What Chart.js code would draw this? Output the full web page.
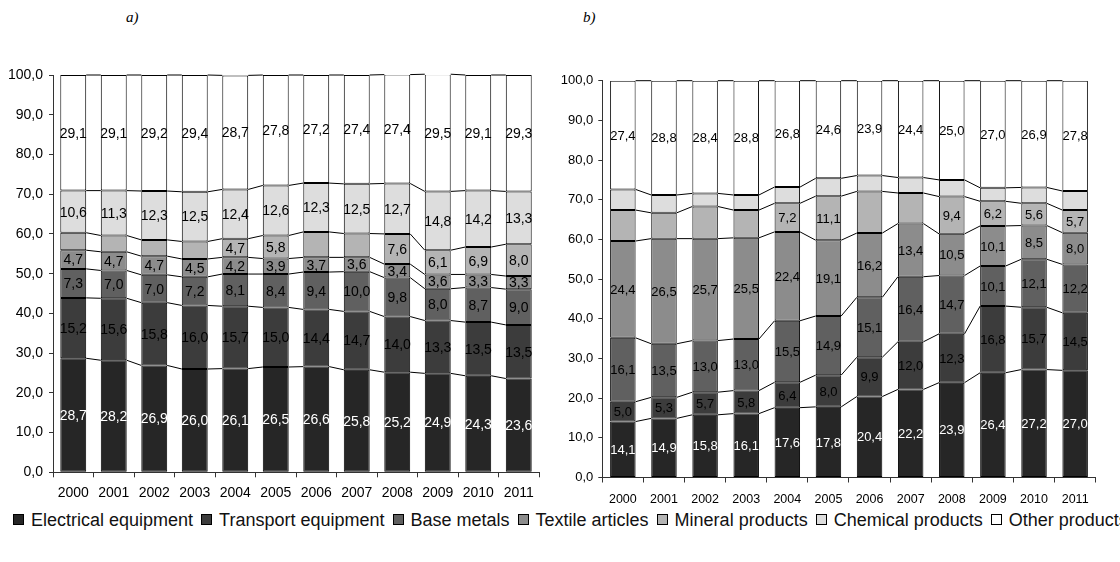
<!DOCTYPE html>
<html>
<head>
<meta charset="utf-8">
<script src="https://cdn.jsdelivr.net/npm/chart.js@4.4.1/dist/chart.umd.min.js"></script>
<style>
  html, body { margin: 0; padding: 0; background: #fff; width: 1120px; height: 562px; overflow: hidden; }
  canvas { position: absolute; top: 0; }
  #chartA { left: 0; }
  #chartB { left: 560px; }
  .panel-title { position: absolute; top: 9px; font-family: "Liberation Serif", "DejaVu Serif", serif; font-style: italic; font-size: 15px; color: #000; }
  #legend { position: absolute; left: 13px; top: 510px; white-space: nowrap; font-family: "Liberation Sans", Arial, sans-serif; font-size: 18px; color: #111; }
  #legend .item { display: inline-block; margin-right: 8px; }
  #legend .box { display: inline-block; width: 9px; height: 9px; border: 1px solid #000; margin-right: 7px; vertical-align: 1px; }
</style>
</head>
<body>
<div class="panel-title" style="left:126px">a)</div>
<div class="panel-title" style="left:583px">b)</div>
<canvas id="chartA" width="560" height="510"></canvas>
<canvas id="chartB" width="560" height="510"></canvas>
<div id="legend"></div>
<script>
// Years on the category axis
const years = ['2000', '2001', '2002', '2003', '2004', '2005', '2006', '2007', '2008', '2009', '2010', '2011'];

// Series names (bottom of the stack first)
const seriesNames = ['Electrical equipment', 'Transport equipment', 'Base metals', 'Textile articles',
                     'Mineral products', 'Chemical products', 'Other products'];

// Panel a) shares, %
const electricalA = [28.7, 28.2, 26.9, 26.0, 26.1, 26.5, 26.6, 25.8, 25.2, 24.9, 24.3, 23.6];
const transportA  = [15.2, 15.6, 15.8, 16.0, 15.7, 15.0, 14.4, 14.7, 14.0, 13.3, 13.5, 13.5];
const baseMetalsA = [7.3, 7.0, 7.0, 7.2, 8.1, 8.4, 9.4, 10.0, 9.8, 8.0, 8.7, 9.0];
const textileA    = [4.7, 4.7, 4.7, 4.5, 4.2, 3.9, 3.7, 3.6, 3.4, 3.6, 3.3, 3.3];
const mineralA    = [4.4, 4.1, 4.1, 4.4, 4.7, 5.8, 6.4, 6.0, 7.6, 6.1, 6.9, 8.0];
const chemicalA   = [10.6, 11.3, 12.3, 12.5, 12.4, 12.6, 12.3, 12.5, 12.7, 14.8, 14.2, 13.3];
const otherA      = [29.1, 29.1, 29.2, 29.4, 28.7, 27.8, 27.2, 27.4, 27.4, 29.5, 29.1, 29.3];

// Panel b) shares, %
const electricalB = [14.1, 14.9, 15.8, 16.1, 17.6, 17.8, 20.4, 22.2, 23.9, 26.4, 27.2, 27.0];
const transportB  = [5.0, 5.3, 5.7, 5.8, 6.4, 8.0, 9.9, 12.0, 12.3, 16.8, 15.7, 14.5];
const baseMetalsB = [16.1, 13.5, 13.0, 13.0, 15.5, 14.9, 15.1, 16.4, 14.7, 10.1, 12.1, 12.2];
const textileB    = [24.4, 26.5, 25.7, 25.5, 22.4, 19.1, 16.2, 13.4, 10.5, 10.1, 8.5, 8.0];
const mineralB    = [7.8, 6.5, 8.1, 7.0, 7.2, 11.1, 10.5, 7.7, 9.4, 6.2, 5.6, 5.7];
const chemicalB   = [5.2, 4.5, 3.3, 3.8, 4.1, 4.5, 4.0, 3.9, 4.2, 3.4, 4.0, 4.8];
const otherB      = [27.4, 28.8, 28.4, 28.8, 26.8, 24.6, 23.9, 24.4, 25.0, 27.0, 26.9, 27.8];

// Which segments carry a value label (thin mineral segments are left unlabeled in some years)
const allYears       = years.map(() => true);
const mineralLabeled = [false, false, false, false, true, true, false, false, true, true, true, true];
const noYears        = years.map(() => false);

// Y axis tick labels
const yTicks = [0, 10, 20, 30, 40, 50, 60, 70, 80, 90, 100];

// Fill colours, bottom to top
const fills = ['#262626', '#3c3c3c', '#606060', '#8c8c8c', '#b4b4b4', '#dddddd', '#ffffff'];
const labelInk = ['#ffffff', '#000', '#000', '#000', '#000', '#000', '#000'];

const FONT = '"Liberation Sans", Arial, sans-serif';
const fmt = v => v.toFixed(1).replace('.', ',');

// Lines joining the top of each segment to the same segment in the next bar
const seriesLines = {
  id: 'seriesLines',
  afterDatasetsDraw(chart) {
    const ctx = chart.ctx;
    ctx.save();
    ctx.strokeStyle = '#000';
    ctx.lineWidth = 1;
    chart.data.datasets.forEach((ds, i) => {
      const els = chart.getDatasetMeta(i).data;
      ctx.beginPath();
      for (let j = 0; j < els.length - 1; j++) {
        const a = els[j].getProps(['x', 'y', 'width'], true);
        const b = els[j + 1].getProps(['x', 'y', 'width'], true);
        ctx.moveTo(a.x + a.width / 2, a.y);
        ctx.lineTo(b.x - b.width / 2, b.y);
      }
      ctx.stroke();
    });
    ctx.restore();
  }
};

// Value labels centred inside each segment
const segmentLabels = {
  id: 'segmentLabels',
  afterDatasetsDraw(chart, args, opts) {
    const ctx = chart.ctx;
    ctx.save();
    ctx.font = opts.size + 'px ' + FONT;
    ctx.textAlign = 'center';
    ctx.textBaseline = 'middle';
    chart.data.datasets.forEach((ds, i) => {
      chart.getDatasetMeta(i).data.forEach((el, j) => {
        if (!ds.labeled[j]) return;
        const p = el.getProps(['x', 'y', 'base'], true);
        ctx.fillStyle = ds.labelColor;
        ctx.fillText(fmt(ds.data[j]), p.x, (p.y + p.base) / 2 + 1);
      });
    });
    ctx.restore();
  }
};

function makeDatasets(series, labeled, barPct) {
  return series.map((data, i) => ({
    label: seriesNames[i],
    data: data,
    backgroundColor: fills[i],
    borderColor: '#000',
    borderWidth: 1,
    borderSkipped: false,
    barPercentage: barPct,
    categoryPercentage: 1,
    labeled: labeled[i],
    labelColor: labelInk[i]
  }));
}

function makeChart(id, series, labeled, g) {
  return new Chart(document.getElementById(id), {
    type: 'bar',
    data: { labels: years, datasets: makeDatasets(series, labeled, g.barPct) },
    options: {
      responsive: false,
      animation: false,
      events: [],
      layout: { padding: { left: 0, right: g.padRight, top: g.padTop, bottom: 0 } },
      plugins: {
        legend: { display: false },
        tooltip: { enabled: false },
        segmentLabels: { size: g.labelSize }
      },
      scales: {
        x: {
          stacked: true,
          ticks: { color: '#000', font: { family: FONT, size: g.xFont }, padding: g.xPad, maxRotation: 0, autoSkip: false },
          grid: { display: true, drawOnChartArea: false, drawTicks: true, tickLength: 5, color: '#333', offset: true },
          border: { display: true, color: '#333', width: 1 },
          afterFit: s => { s.height = g.xHeight; }
        },
        y: {
          stacked: true,
          min: 0,
          max: 100,
          afterBuildTicks: s => { s.ticks = yTicks.map(v => ({ value: v })); },
          ticks: { color: '#000', font: { family: FONT, size: g.yFont }, padding: g.yPad, callback: v => fmt(v) },
          grid: { display: true, drawOnChartArea: false, drawTicks: true, tickLength: 4, color: '#333' },
          border: { display: true, color: '#333', width: 1 },
          afterFit: s => { s.width = g.yWidth; }
        }
      }
    },
    plugins: [segmentLabels, seriesLines]
  });
}

makeChart('chartA',
  [electricalA, transportA, baseMetalsA, textileA, mineralA, chemicalA, otherA],
  [allYears, allYears, allYears, allYears, mineralLabeled, allYears, allYears],
  { barPct: 0.64, padRight: 21, padTop: 75, xHeight: 37.7, yWidth: 53, xFont: 14, yFont: 14, xPad: 7, yPad: 6, labelSize: 14 });

makeChart('chartB',
  [electricalB, transportB, baseMetalsB, textileB, mineralB, chemicalB, otherB],
  [allYears, allYears, allYears, allYears, mineralLabeled, noYears, allYears],
  { barPct: 0.62, padRight: 24.3, padTop: 80.7, xHeight: 32.5, yWidth: 42.3, xFont: 12.5, yFont: 13, xPad: 10, yPad: 5, labelSize: 13 });

// Shared legend below both panels
const legend = document.getElementById('legend');
seriesNames.forEach((name, i) => {
  const item = document.createElement('span');
  item.className = 'item';
  const box = document.createElement('span');
  box.className = 'box';
  box.style.background = fills[i];
  item.appendChild(box);
  item.appendChild(document.createTextNode(name));
  legend.appendChild(item);
});
</script>
</body>
</html>
